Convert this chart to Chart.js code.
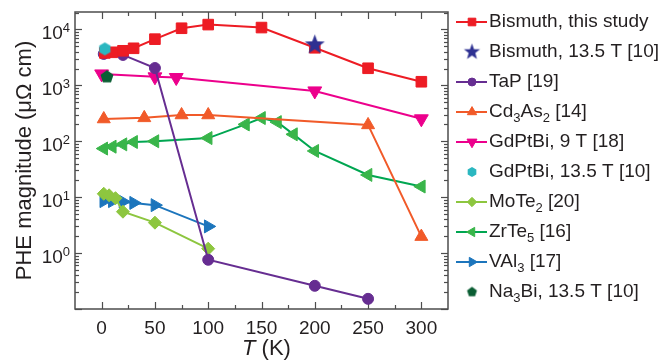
<!DOCTYPE html>
<html><head><meta charset="utf-8">
<script src="https://cdn.jsdelivr.net/npm/chart.js@4.4.1/dist/chart.umd.min.js"></script>
<style>html,body{margin:0;padding:0;background:#fff;}canvas{display:block}</style>
</head><body>
<canvas id="c" width="663" height="362"></canvas>
<script>
// ---------- data ----------
const seriesLabels = ['Bismuth, this study','Bismuth, 13.5 T [10]','TaP [19]','Cd₃As₂ [14]','GdPtBi, 9 T [18]','GdPtBi, 13.5 T [10]','MoTe₂ [20]','ZrTe₅ [16]','VAl₃ [17]','Na₃Bi, 13.5 T [10]'];
const tBiStudy = [3, 10, 20, 30, 50, 75, 100, 150, 200, 250, 300];
const vBiStudy = [3800, 3900, 4150, 4600, 6700, 10500, 12200, 10800, 4700, 2020, 1160];
const tBi135 = [200];
const vBi135 = [5300];
const tTaP = [2, 20, 50, 100, 200, 250];
const vTaP = [3650, 3500, 2040, 0.76, 0.26, 0.152];
const tCd3As2 = [2, 40, 75, 100, 250, 300];
const vCd3As2 = [250, 262, 295, 295, 196, 1.97];
const tGdPtBi9 = [0, 50, 70, 200, 300];
const vGdPtBi9 = [1600, 1420, 1380, 795, 252];
const tGdPtBi135 = [3];
const vGdPtBi135 = [4480];
const tMoTe2 = [2, 7, 13, 20, 50, 100];
const vMoTe2 = [11.5, 10.8, 9.6, 5.5, 3.5, 1.2];
const tZrTe5 = [2, 10, 20, 30, 50, 100, 135, 150, 165, 180, 200, 250, 300];
const vZrTe5 = [74, 80, 88, 97, 100, 114, 200, 260, 220, 133, 67, 25, 15.5];
const tVAl3 = [2, 10, 20, 30, 50, 100];
const vVAl3 = [8.5, 8.5, 8.3, 7.9, 7.2, 3.0];
const tNa3Bi = [5];
const vNa3Bi = [1420];
const xTicks = [0, 50, 100, 150, 200, 250, 300];
const xTickLabels = ['0', '50', '100', '150', '200', '250', '300'];
const xMinorTicks = [25, 75, 125, 175, 225, 275];
const yTicks = [1, 10, 100, 1000, 10000];
const yTickLabels = ['10⁰', '10¹', '10²', '10³', '10⁴'];

// ---------- helpers ----------
const FONT = "'Liberation Sans', Arial, Helvetica, sans-serif";
const TEXT = '#231f20';
function pts(xs, ys) { return xs.map((x, i) => ({ x: x, y: ys[i] })); }
function makePoly(n, r, fill) {
  const s = Math.ceil(2 * r + 2), c = document.createElement('canvas');
  c.width = s; c.height = s;
  const g = c.getContext('2d'); g.fillStyle = fill; g.beginPath();
  for (let i = 0; i < n; i++) {
    const a = -Math.PI / 2 + i * 2 * Math.PI / n;
    const px = s / 2 + r * Math.cos(a), py = s / 2 + r * Math.sin(a);
    if (i) g.lineTo(px, py); else g.moveTo(px, py);
  }
  g.closePath(); g.fill(); return c;
}
function makeStar(R, rin, fill) {
  const s = Math.ceil(2 * R + 2), c = document.createElement('canvas');
  c.width = s; c.height = s;
  const g = c.getContext('2d'); g.fillStyle = fill; g.beginPath();
  for (let i = 0; i < 10; i++) {
    const a = -Math.PI / 2 + i * Math.PI / 5, r = i % 2 ? rin : R;
    const px = s / 2 + r * Math.cos(a), py = s / 2 + r * Math.sin(a);
    if (i) g.lineTo(px, py); else g.moveTo(px, py);
  }
  g.closePath(); g.fill(); return c;
}
const C = {
  bi: '#ed1c24', star: '#2e3192', tap: '#662d91', cd: '#f15a29', gd: '#ec008c',
  hex: '#2bb7c0', mo: '#8dc63f', zrLine: '#00a651', zr: '#39b54a', val: '#1c75bc', na: '#0b5e34'
};
const starPlot = makeStar(10.5, 4.4, C.star), starLeg = makeStar(8.5, 3.5, C.star);
const hexPlot = makePoly(6, 6.5, C.hex), hexLeg = makePoly(6, 5, C.hex);
const pentPlot = makePoly(5, 6.8, C.na), pentLeg = makePoly(5, 5.2, C.na);

function ds(i, xs, ys, o) {
  return Object.assign({
    label: seriesLabels[i], data: pts(xs, ys), showLine: true, borderWidth: 2,
    pointBorderWidth: 1, tension: 0, order: 1
  }, o);
}
const datasets = [
  ds(0, tBiStudy, vBiStudy, { borderColor: C.bi, pointBackgroundColor: C.bi, pointBorderColor: C.bi, pointStyle: 'rect', pointRadius: 7.5 }),
  ds(1, tBi135, vBi135, { showLine: false, borderColor: C.star, pointBackgroundColor: C.star, pointBorderColor: C.star, pointStyle: starPlot, legendStyle: starLeg, pointRadius: 11, order: 0 }),
  ds(2, tTaP, vTaP, { borderColor: C.tap, pointBackgroundColor: C.tap, pointBorderColor: C.tap, pointStyle: 'circle', pointRadius: 5.5 }),
  ds(3, tCd3As2, vCd3As2, { borderColor: C.cd, pointBackgroundColor: C.cd, pointBorderColor: C.cd, pointStyle: 'triangle', pointRadius: 7.5 }),
  ds(4, tGdPtBi9, vGdPtBi9, { borderColor: C.gd, pointBackgroundColor: C.gd, pointBorderColor: C.gd, pointStyle: 'triangle', pointRotation: 180, pointRadius: 8 }),
  ds(5, tGdPtBi135, vGdPtBi135, { showLine: false, borderColor: C.hex, pointBackgroundColor: C.hex, pointBorderColor: C.hex, pointStyle: hexPlot, legendStyle: hexLeg, pointRadius: 7, order: 0 }),
  ds(6, tMoTe2, vMoTe2, { borderColor: C.mo, pointBackgroundColor: C.mo, pointBorderColor: C.mo, pointStyle: 'rectRot', pointRadius: 6.5 }),
  ds(7, tZrTe5, vZrTe5, { borderColor: C.zrLine, pointBackgroundColor: C.zr, pointBorderColor: C.zr, pointStyle: 'triangle', pointRotation: 270, pointRadius: 7.5 }),
  ds(8, tVAl3, vVAl3, { borderColor: C.val, pointBackgroundColor: C.val, pointBorderColor: C.val, pointStyle: 'triangle', pointRotation: 90, pointRadius: 7.5 }),
  ds(9, tNa3Bi, vNa3Bi, { showLine: false, borderColor: C.na, pointBackgroundColor: C.na, pointBorderColor: C.na, pointStyle: pentPlot, legendStyle: pentLeg, pointRadius: 7, order: 0 })
];

// ---------- plugins ----------
const SUB = { '₀': '0', '₁': '1', '₂': '2', '₃': '3', '₄': '4', '₅': '5', '₆': '6', '₇': '7', '₈': '8', '₉': '9' };
const SUP = { '⁰': '0', '¹': '1', '²': '2', '³': '3', '⁴': '4', '⁵': '5', '⁶': '6', '⁷': '7', '⁸': '8', '⁹': '9' };
// splits a label into runs: normal / sub / sup
function runs(str) {
  const out = [];
  for (const ch of str) {
    const kind = SUB[ch] ? 'sub' : (SUP[ch] ? 'sup' : 'n');
    const c = SUB[ch] || SUP[ch] || ch;
    if (out.length && out[out.length - 1].kind === kind) out[out.length - 1].t += c;
    else out.push({ kind: kind, t: c });
  }
  return out;
}
function richWidth(ctx, str, size) {
  let w = 0;
  runs(str).forEach(r => {
    ctx.font = `${r.kind === 'n' ? size : Math.round(size * 0.68)}px ${FONT}`;
    w += ctx.measureText(r.t).width;
  });
  return w;
}
function richText(ctx, str, x, y, size) {
  let cx = x;
  runs(str).forEach(r => {
    if (r.kind === 'n') {
      ctx.font = `${size}px ${FONT}`; ctx.fillText(r.t, cx, y);
    } else {
      ctx.font = `${Math.round(size * 0.68)}px ${FONT}`;
      ctx.fillText(r.t, cx, r.kind === 'sub' ? y + size * 0.33 : y - size * 0.36);
    }
    cx += ctx.measureText(r.t).width;
  });
}
const framePlugin = {
  id: 'frame',
  beforeDatasetsDraw(chart) {
    const { ctx, chartArea: a, scales: { x, y } } = chart;
    ctx.save();
    ctx.strokeStyle = '#4d4d4d'; ctx.lineWidth = 1.5;
    ctx.strokeRect(a.left, a.top, a.right - a.left, a.bottom - a.top);
    ctx.lineWidth = 1.2;
    const seg = (x1, y1, x2, y2) => { ctx.beginPath(); ctx.moveTo(x1, y1); ctx.lineTo(x2, y2); ctx.stroke(); };
    xTicks.concat(xMinorTicks).forEach(v => {
      const px = Math.round(x.getPixelForValue(v)) + 0.5, L = xTicks.includes(v) ? 7 : 4;
      seg(px, a.bottom, px, a.bottom - L); seg(px, a.top, px, a.top + L);
    });
    for (let e = -1; e <= 4; e++) for (let m = 1; m <= 9; m++) {
      const v = m * Math.pow(10, e);
      if (v < y.min || v > y.max) continue;
      const py = Math.round(y.getPixelForValue(v)) + 0.5, L = m === 1 ? 7 : 4;
      seg(a.left, py, a.left + L, py); seg(a.right, py, a.right - L, py);
    }
    // y tick labels (10 with superscript exponent)
    ctx.fillStyle = TEXT; ctx.textBaseline = 'alphabetic'; ctx.textAlign = 'left';
    yTicks.forEach((v, i) => {
      const py = y.getPixelForValue(v);
      const lab = yTickLabels[i];
      const w = richWidth(ctx, lab, 19);
      richText(ctx, lab, a.left - 5 - w, py + 9.5, 19);
    });
    ctx.restore();
  }
};
const legendPlugin = {
  id: 'customLegend',
  afterDraw(chart) {
    const ctx = chart.ctx;
    ctx.save();
    ctx.textBaseline = 'middle'; ctx.textAlign = 'left';
    chart.data.datasets.forEach((d, i) => {
      const yy = 22 + 30 * i;
      if (d.showLine) {
        ctx.strokeStyle = d.borderColor; ctx.lineWidth = 2;
        ctx.beginPath(); ctx.moveTo(456, yy); ctx.lineTo(487, yy); ctx.stroke();
      }
      ctx.fillStyle = d.pointBackgroundColor; ctx.strokeStyle = d.pointBorderColor; ctx.lineWidth = 1;
      Chart.helpers.drawPoint(ctx, {
        pointStyle: d.legendStyle || d.pointStyle, radius: d.pointRadius * 0.72,
        rotation: d.pointRotation || 0, borderWidth: 1
      }, 472, yy);
      ctx.fillStyle = TEXT;
      richText(ctx, d.label, 489, yy, 19);
    });
    ctx.restore();
  }
};
const xTitlePlugin = {
  id: 'xTitle',
  afterDraw(chart) {
    const { ctx, chartArea: a } = chart;
    ctx.save();
    ctx.fillStyle = TEXT; ctx.textBaseline = 'alphabetic'; ctx.textAlign = 'left';
    const f1 = `italic 22px ${FONT}`, f2 = `22px ${FONT}`;
    ctx.font = f1; const w1 = ctx.measureText('T').width;
    ctx.font = f2; const w2 = ctx.measureText(' (K)').width;
    const x0 = (a.left + a.right) / 2 + 5 - (w1 + w2) / 2, yb = 355;
    ctx.font = f1; ctx.fillText('T', x0, yb);
    ctx.font = f2; ctx.fillText(' (K)', x0 + w1, yb);
    ctx.restore();
  }
};

// ---------- chart ----------
new Chart(document.getElementById('c'), {
  type: 'scatter',
  data: { datasets: datasets },
  options: {
    responsive: false, animation: false, devicePixelRatio: 1,
    layout: { padding: { top: 8, right: 215, bottom: 0, left: 0 } },
    plugins: { legend: { display: false }, tooltip: { enabled: false } },
    elements: { line: { tension: 0 } },
    scales: {
      x: {
        type: 'linear', min: -25, max: 325,
        grid: { display: false }, border: { display: false },
        afterBuildTicks: s => { s.ticks = xTicks.map(v => ({ value: v })); },
        afterFit: s => { s.height = 53; },
        ticks: { color: TEXT, padding: 0, maxRotation: 0, autoSkip: false,
          font: { family: FONT, size: 19 },
          callback: v => xTickLabels[xTicks.indexOf(v)] }
      },
      y: {
        type: 'logarithmic', min: 0.1, max: 20500,
        grid: { display: false }, border: { display: false },
        afterBuildTicks: s => { s.ticks = yTicks.map(v => ({ value: v, major: true })); },
        afterFit: s => { s.width = 75; },
        ticks: { display: false },
        title: { display: true, text: 'PHE magnitude (μΩ cm)', color: TEXT,
          font: { family: FONT, size: 22 }, padding: { top: 12, bottom: 0 } }
      }
    }
  },
  plugins: [framePlugin, legendPlugin, xTitlePlugin]
});
</script>
</body></html>
